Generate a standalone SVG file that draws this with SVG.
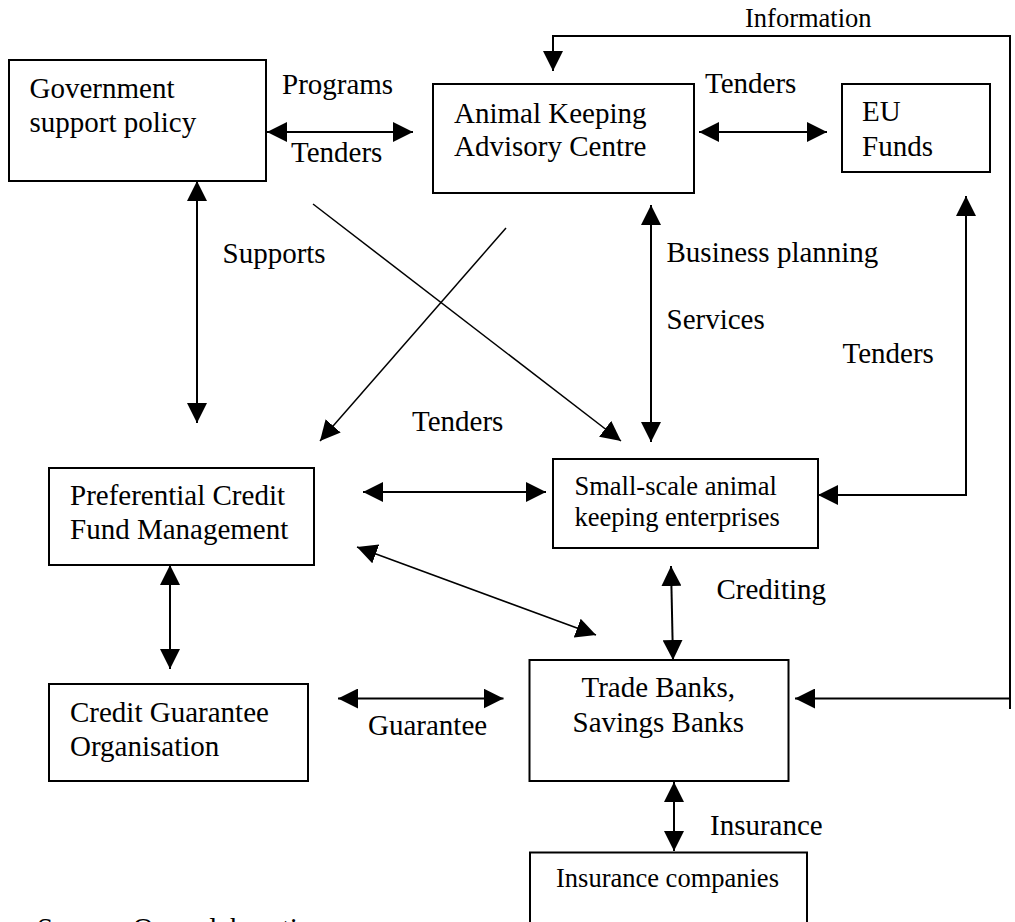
<svg xmlns="http://www.w3.org/2000/svg" width="1015" height="922" viewBox="0 0 1015 922">
<style>
.box{fill:#fff;stroke:#000;stroke-width:2}
.t{font-family:"Liberation Serif","Times New Roman",serif;font-size:29px;fill:#000}
.s{font-family:"Liberation Serif","Times New Roman",serif;font-size:26.5px;fill:#000}
.c{fill:none;stroke:#000;stroke-width:2}
.d{fill:none;stroke:#000;stroke-width:1.5}
</style>
<defs>
<marker id="ah" markerUnits="userSpaceOnUse" markerWidth="20" markerHeight="20" refX="20" refY="10" orient="auto-start-reverse" viewBox="0 0 20 20">
<path d="M0,0 L20,10 L0,20 z" fill="#000"/>
</marker>
</defs>
<rect width="1015" height="922" fill="#fff"/>
<g id="connectors">
<line class="c" x1="267" y1="132" x2="413" y2="132" marker-start="url(#ah)" marker-end="url(#ah)"/>
<line class="c" x1="699" y1="132" x2="827" y2="132" marker-start="url(#ah)" marker-end="url(#ah)"/>
<polyline class="c" points="1010,709 1010,36 553,36 553,71" marker-end="url(#ah)"/>
<line class="c" x1="1010" y1="698.5" x2="795" y2="698.5" marker-end="url(#ah)"/>
<line class="c" x1="197" y1="181" x2="197" y2="423" marker-start="url(#ah)" marker-end="url(#ah)"/>
<line class="d" x1="313" y1="204" x2="621" y2="441" marker-end="url(#ah)"/>
<line class="d" x1="506" y1="228" x2="320" y2="441" marker-end="url(#ah)"/>
<line class="c" x1="651" y1="205" x2="651" y2="442" marker-start="url(#ah)" marker-end="url(#ah)"/>
<polyline class="c" points="966,196 966,495 818,495" marker-start="url(#ah)" marker-end="url(#ah)"/>
<line class="c" x1="363" y1="492" x2="546" y2="492" marker-start="url(#ah)" marker-end="url(#ah)"/>
<line class="d" x1="357" y1="547" x2="596" y2="635" marker-start="url(#ah)" marker-end="url(#ah)"/>
<line class="c" x1="170" y1="565" x2="170" y2="669" marker-start="url(#ah)" marker-end="url(#ah)"/>
<line class="c" x1="671" y1="566" x2="673" y2="660" marker-start="url(#ah)" marker-end="url(#ah)"/>
<line class="c" x1="338" y1="698.5" x2="503.5" y2="698.5" marker-start="url(#ah)" marker-end="url(#ah)"/>
<line class="c" x1="674" y1="782" x2="674" y2="851" marker-start="url(#ah)" marker-end="url(#ah)"/>
</g>
<g id="labels">
<text class="t" x="282" y="94">Programs</text>
<text class="t" x="291" y="162">Tenders</text>
<text class="t" x="705" y="93">Tenders</text>
<text class="s" x="745" y="27">Information</text>
<text class="t" x="222.5" y="263">Supports</text>
<text class="t" x="666.5" y="262">Business planning</text>
<text class="t" x="666.5" y="329">Services</text>
<text class="t" x="842.5" y="363">Tenders</text>
<text class="t" x="412" y="431">Tenders</text>
<text class="t" x="716.5" y="599">Crediting</text>
<text class="t" x="368" y="735">Guarantee</text>
<text class="t" x="710" y="835">Insurance</text>
<text class="t" x="37" y="938">Source: Own elaboration</text>
</g>
<g id="gov">
<rect class="box" x="9" y="60" width="257" height="121"/>
<text class="t" x="29.5" y="98">Government</text>
<text class="t" x="29.5" y="131.5">support policy</text>
</g>
<g id="akac">
<rect class="box" x="433" y="84" width="261" height="109"/>
<text class="t" x="454" y="123">Animal Keeping</text>
<text class="t" x="454" y="156">Advisory Centre</text>
</g>
<g id="eu">
<rect class="box" x="842" y="84" width="148" height="88"/>
<text class="t" x="862" y="121">EU</text>
<text class="t" x="862" y="156">Funds</text>
</g>
<g id="pref">
<rect class="box" x="49" y="468" width="265" height="97"/>
<text class="t" x="70" y="505">Preferential Credit</text>
<text class="t" x="70" y="539">Fund Management</text>
</g>
<g id="small">
<rect class="box" x="553" y="459" width="265" height="89"/>
<text class="s" x="574.5" y="495">Small-scale animal</text>
<text class="s" x="574.5" y="526">keeping enterprises</text>
</g>
<g id="cgo">
<rect class="box" x="49" y="684" width="259" height="97"/>
<text class="t" x="70" y="722">Credit Guarantee</text>
<text class="t" x="70" y="756">Organisation</text>
</g>
<g id="trade">
<rect class="box" x="529.5" y="660" width="259" height="121"/>
<text class="t" x="581.5" y="697">Trade Banks,</text>
<text class="t" x="572.5" y="732">Savings Banks</text>
</g>
<g id="insurance">
<rect class="box" x="530" y="852.5" width="277" height="90"/>
<text class="s" x="556" y="887">Insurance companies</text>
</g>
</svg>
